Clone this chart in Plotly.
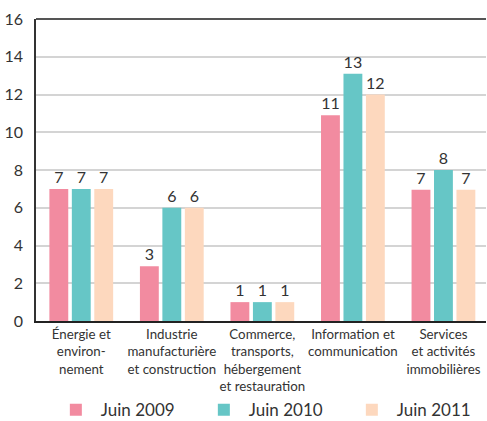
import plotly.graph_objects as go

categories = [
    "Énergie et<br>environ-<br>nement",
    "Industrie<br>manufacturière<br>et construction",
    "Commerce,<br>transports,<br>hébergement<br>et restauration",
    "Information et<br>communication",
    "Services<br>et activités<br>immobilières",
]
series_names = ["Juin 2009", "Juin 2010", "Juin 2011"]
juin_2009 = [7.0, 2.9, 1.0, 10.9, 6.95]
juin_2010 = [7.0, 6.0, 1.0, 13.1, 8.0]
juin_2011 = [7.0, 6.0, 1.0, 12.0, 6.95]
colors = ["#F28BA0", "#66C6C6", "#FDD8BE"]
y_ticks = [0, 2, 4, 6, 8, 10, 12, 14, 16]

FONT = "Lato, 'Open Sans', sans-serif"

fig = go.Figure()
for name, vals, col in zip(series_names, [juin_2009, juin_2010, juin_2011], colors):
    fig.add_trace(go.Bar(
        x=list(range(len(categories))), y=vals, name=name,
        marker=dict(color=col, line=dict(width=0)),
        text=[str(round(v)) for v in vals], textposition="outside",
        textfont=dict(size=16, color="#333333", family=FONT),
        cliponaxis=False,
    ))

fig.update_layout(
    width=487, height=421,
    margin=dict(l=36, r=1, t=19, b=100, autoexpand=False),
    paper_bgcolor="white", plot_bgcolor="white",
    barmode="group", bargap=0.256, bargroupgap=0.16,
    font=dict(family=FONT, color="#333333"),
    showlegend=True,
    legend=dict(orientation="h", x=0.033, xanchor="left", y=-0.295, yanchor="middle",
                bgcolor="rgba(0,0,0,0)",
                font=dict(size=17, color="#333333", family=FONT),
                entrywidth=93, entrywidthmode="pixels", itemwidth=40),
    xaxis=dict(
        range=[-0.5, 4.47],
        tickmode="array", tickvals=list(range(len(categories))), ticktext=categories,
        tickfont=dict(size=13.3, color="#333333", family=FONT),
        showline=True, linecolor="#222222", linewidth=2,
        showgrid=False, ticks="", zeroline=False, automargin=False,
    ),
    yaxis=dict(
        range=[0, 16], tickmode="array", tickvals=y_ticks,
        tickfont=dict(size=16, color="#333333", family=FONT),
        showline=True, linecolor="#333333", linewidth=1.5,
        showgrid=True, gridcolor="#d4d4d4", gridwidth=1.5,
        zeroline=False, ticks="", ticklabelstandoff=8, automargin=False,
    ),
    shapes=[dict(type="line", xref="paper", yref="paper", x0=0, x1=1, y0=1, y1=1,
                 line=dict(color="#555555", width=2))],
)

fig.write_html(
    "out.html",
    config={"displayModeBar": False},
    post_script="document.body.style.margin='0';document.body.style.overflow='hidden';",
)
